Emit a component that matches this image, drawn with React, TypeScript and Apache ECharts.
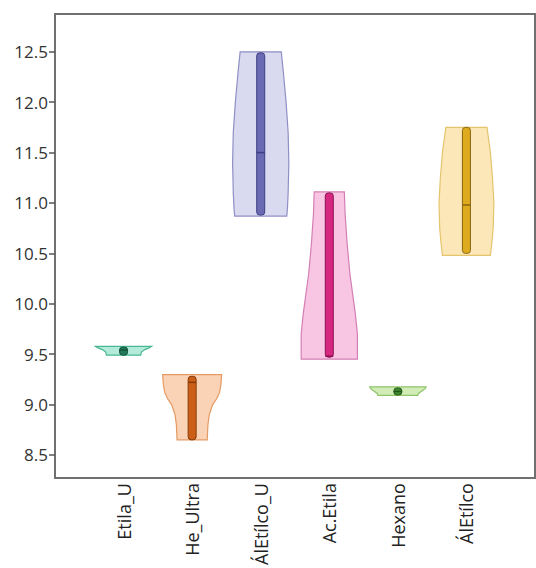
import React, { useEffect, useRef } from "react";
import * as echarts from "echarts";

const categories = ["Etila_U", "He_Ultra", "ÁlEtílco_U", "Ac.Etila", "Hexano", "ÁlEtílco"];

// violin density profiles: [value, half-width density]
const profileEtilaU = [[9.578, 0.41], [9.565, 0.38], [9.545, 0.31], [9.52, 0.26], [9.49, 0.25]];
const profileHeUltra = [[9.296, 0.43], [9.2, 0.42], [9.12, 0.4], [9.06, 0.36], [9.0, 0.3], [8.9, 0.25], [8.8, 0.23], [8.65, 0.22]];
const profileAlEtilcoU = [[12.5, 0.3], [12.3, 0.33], [12.0, 0.37], [11.7, 0.4], [11.4, 0.41], [11.1, 0.4], [10.95, 0.39], [10.87, 0.38]];
const profileAcEtila = [[11.11, 0.22], [10.9, 0.23], [10.6, 0.26], [10.3, 0.3], [10.1, 0.34], [9.9, 0.38], [9.7, 0.41], [9.45, 0.41]];
const profileHexano = [[9.175, 0.41], [9.16, 0.4], [9.13, 0.34], [9.11, 0.3], [9.09, 0.29]];
const profileAlEtilco = [[11.75, 0.3], [11.5, 0.35], [11.25, 0.38], [11.0, 0.4], [10.75, 0.39], [10.6, 0.37], [10.48, 0.35]];

const profiles = [profileEtilaU, profileHeUltra, profileAlEtilcoU, profileAcEtila, profileHexano, profileAlEtilco];

// inner bar: [max, min], median
const barMax = [9.57, 9.28, 12.49, 11.1, 9.165, 11.75];
const barMin = [9.49, 8.65, 10.88, 9.47, 9.095, 10.5];
const medians = [9.54, 9.22, 11.5, 9.48, 9.13, 10.98];

const yTicks = [8.5, 9.0, 9.5, 10.0, 10.5, 11.0, 11.5, 12.0, 12.5];

const fills = ["#b4ead9", "#fad3b6", "#d9d9ef", "#f8c6e2", "#d2ecb7", "#fbe7b8"];
const strokes = ["#48b894", "#e49a62", "#8f8fc6", "#d47fb4", "#8cc466", "#e5c46e"];
const barFills = ["#237a5a", "#cc5f18", "#6a6ab2", "#d62780", "#3e8a2c", "#deaa1e"];
const barStrokes = ["#14553c", "#86390a", "#3e3e86", "#8c1256", "#24561a", "#8b6510"];

export default function App() {
  const ref = useRef<HTMLDivElement>(null);
  useEffect(() => {
    const chart = echarts.init(ref.current!, null, { renderer: "svg" });
    const data = categories.map((_, i) => [i + 1]);
    chart.setOption({
      animation: false,
      backgroundColor: "#ffffff",
      grid: {
        left: 55,
        right: 1,
        top: 14,
        bottom: 88,
        show: true,
        borderColor: "#707070",
        borderWidth: 2,
        backgroundColor: "transparent",
      },
      xAxis: {
        type: "value",
        min: 0,
        max: 7,
        interval: 1,
        splitLine: { show: false },
        axisLine: { show: false },
        axisTick: { show: false },
        axisLabel: {
          rotate: 90,
          margin: 5,
          fontSize: 18,
          color: "#222",
          fontFamily: "Open Sans",
          formatter: (v: number) => categories[v - 1] ?? "",
        },
      },
      yAxis: {
        type: "value",
        min: 8.27,
        max: 12.875,
        splitLine: { show: false },
        axisLine: { show: false },
        axisTick: {
          show: true,
          length: 6,
          customValues: yTicks,
          lineStyle: { color: "#555", width: 1.5 },
        },
        axisLabel: {
          customValues: yTicks,
          margin: 7,
          fontSize: 17,
          color: "#333",
          fontFamily: "Open Sans",
          formatter: (v: number) => v.toFixed(1),
        },
      },
      series: [
        {
          type: "custom",
          data,
          clip: false,
          renderItem: (params: any, api: any) => {
            const i = params.dataIndex;
            const x = api.value(0);
            const prof = profiles[i];
            const right = prof.map(([v, w]) => api.coord([x + w, v]));
            const left = prof
              .slice()
              .reverse()
              .map(([v, w]) => api.coord([x - w, v]));
            const pts = right.concat(left);
            const top = api.coord([x, barMax[i]]);
            const bot = api.coord([x, barMin[i]]);
            const med = api.coord([x, medians[i]]);
            const bw = 8;
            return {
              type: "group",
              children: [
                {
                  type: "polygon",
                  shape: { points: pts },
                  style: { fill: fills[i], stroke: strokes[i], lineWidth: 1.2 },
                },
                {
                  type: "rect",
                  shape: {
                    x: top[0] - bw / 2,
                    y: top[1],
                    width: bw,
                    height: Math.max(bot[1] - top[1], 4),
                    r: 3,
                  },
                  style: { fill: barFills[i], stroke: barStrokes[i], lineWidth: 1 },
                },
                {
                  type: "line",
                  shape: { x1: med[0] - bw / 2, y1: med[1], x2: med[0] + bw / 2, y2: med[1] },
                  style: { stroke: barStrokes[i], lineWidth: 1.5 },
                },
              ],
            };
          },
        },
      ],
    });
    return () => chart.dispose();
  }, []);
  return (
    <div
      ref={ref}
      style={{ position: "fixed", left: 0, top: 0, width: 536, height: 568 }}
    />
  );
}
